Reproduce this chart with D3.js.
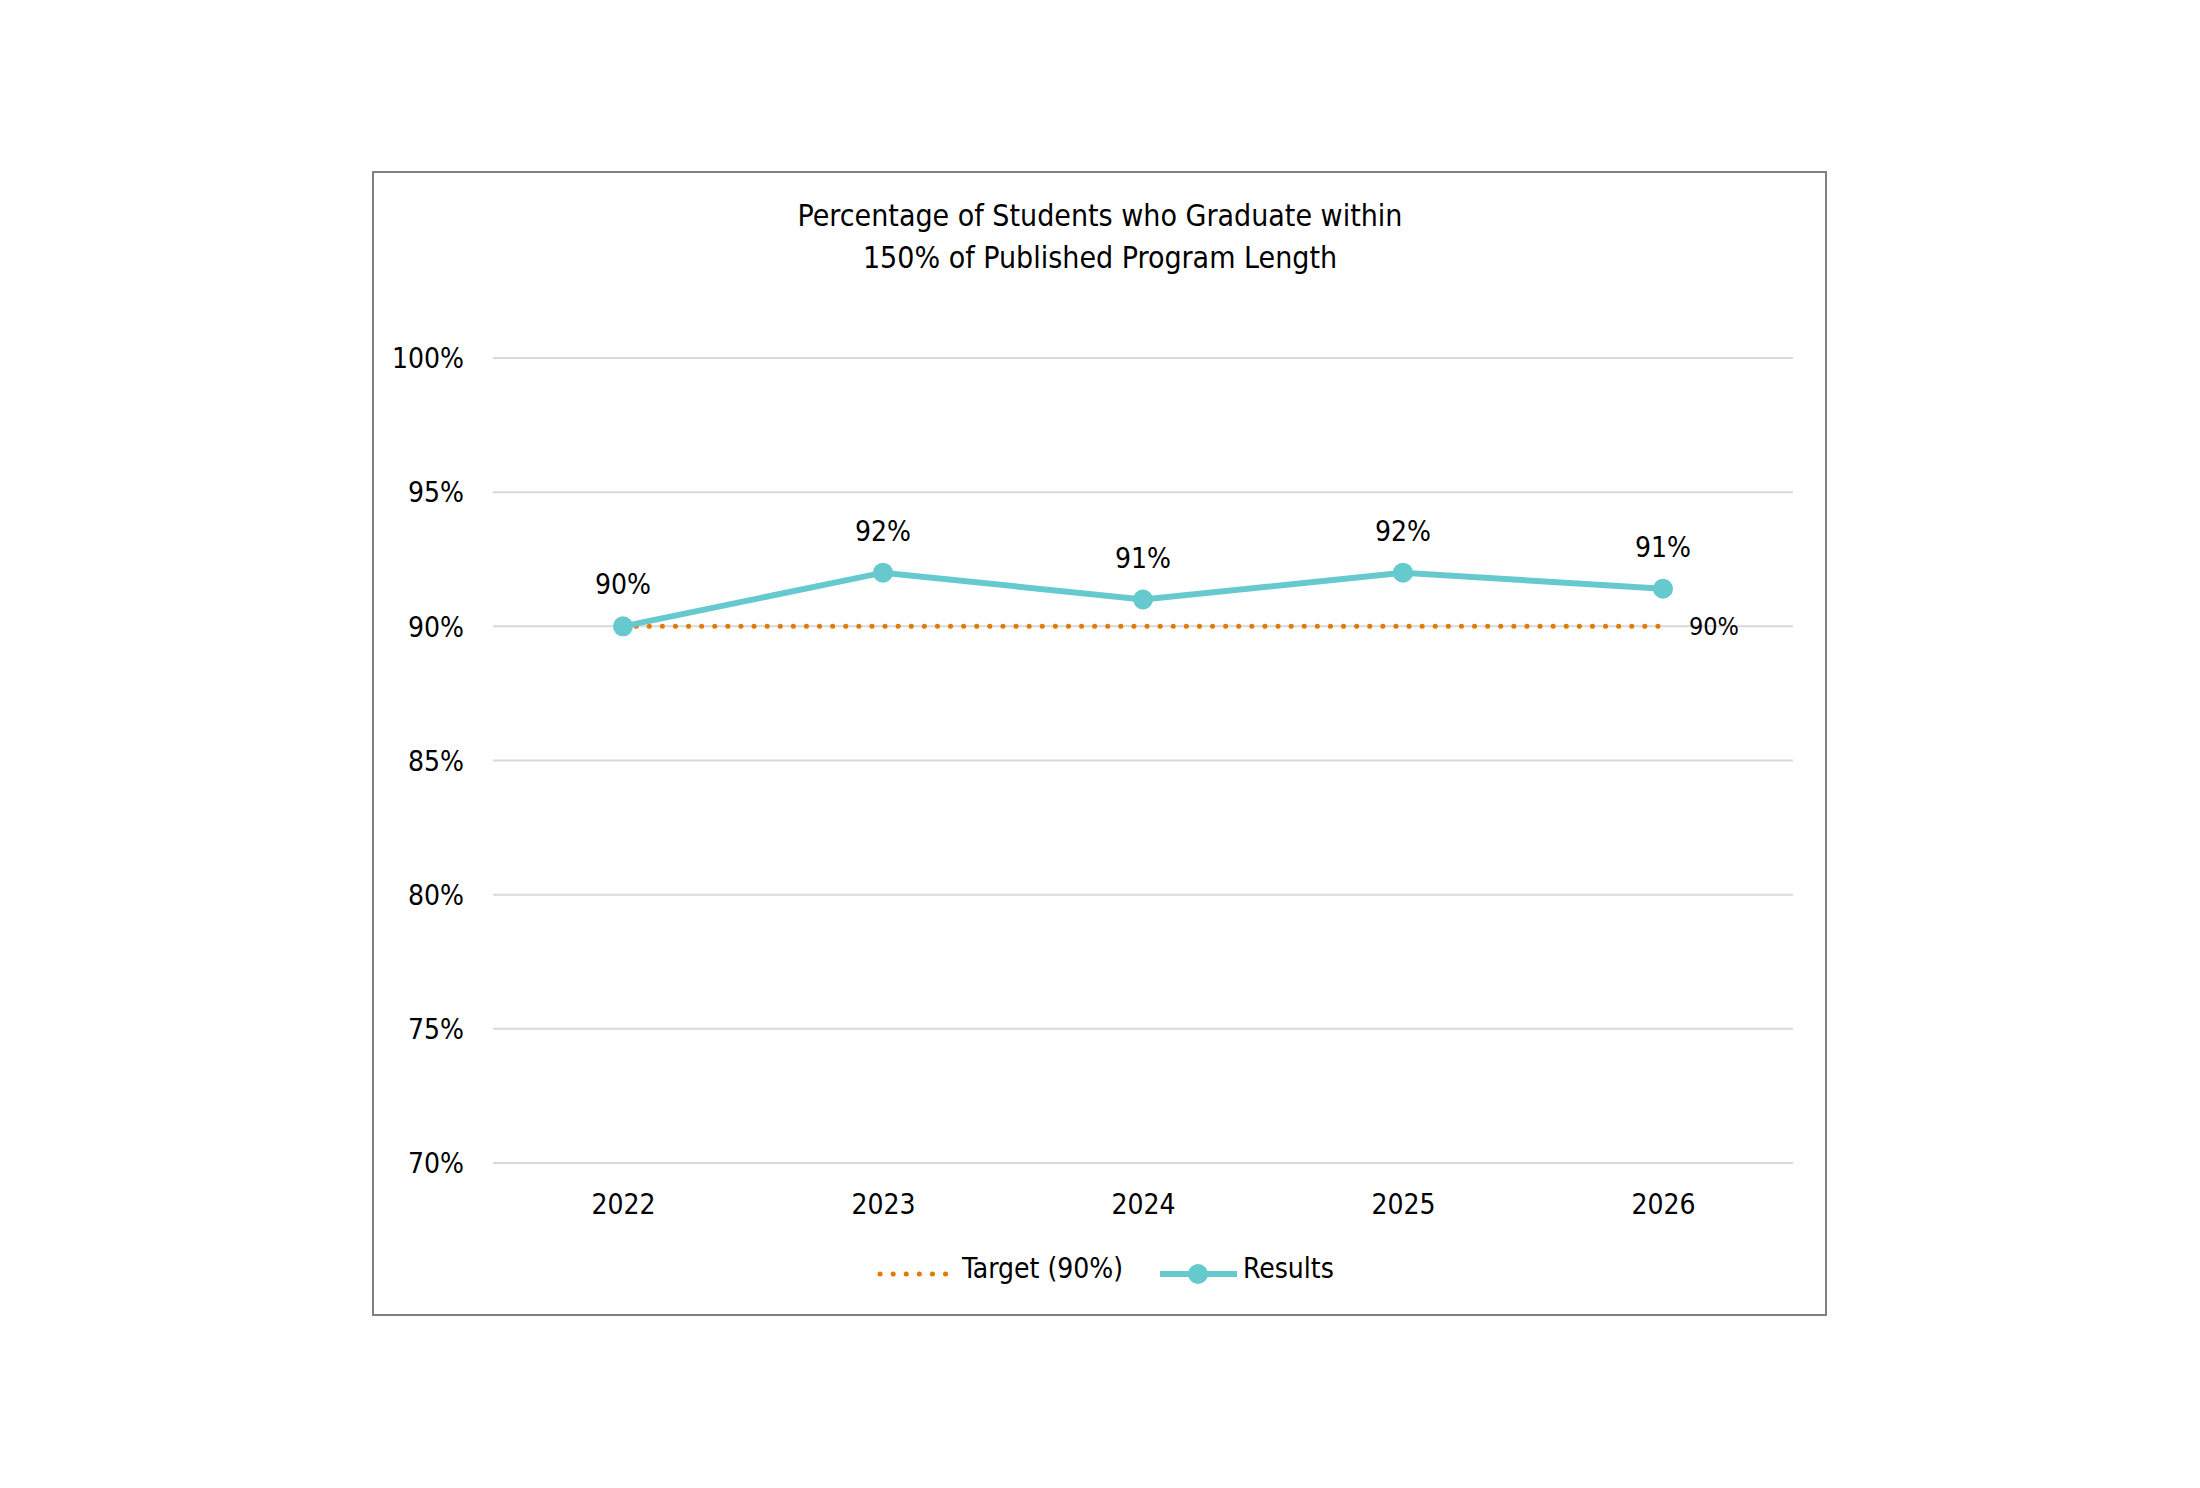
<!DOCTYPE html>
<html>
<head>
<meta charset="utf-8">
<script src="https://cdn.jsdelivr.net/npm/d3@7"></script>
<style>
  body { margin: 0; background: #fff; }
  text { font-family: "Liberation Sans Narrow", "DejaVu Sans Condensed", sans-serif; fill: #000; }
</style>
</head>
<body>
<div id="chart"></div>
<script>
// data
var years = ["2022", "2023", "2024", "2025", "2026"];
var results = [90, 92, 91, 92, 91.4];
var target = [90, 90, 90, 90, 90];
var yTicks = [70, 75, 80, 85, 90, 95, 100];
var titleLines = ["Percentage of Students who Graduate within", "150% of Published Program Length"];

var W = 2200, H = 1488;
var margin = {top: 358, right: 407, bottom: 325, left: 493},
    width = W - margin.left - margin.right,
    height = H - margin.top - margin.bottom;

var svg = d3.select("#chart")
  .append("svg")
    .attr("width", W)
    .attr("height", H);

// outer chart border
svg.append("rect")
  .attr("x", 373).attr("y", 172)
  .attr("width", 1453).attr("height", 1143)
  .attr("fill", "none")
  .attr("stroke", "#808080")
  .attr("stroke-width", 2);

svg.selectAll(".title")
  .data(titleLines)
  .enter()
  .append("text")
    .attr("class", "title")
    .attr("x", 1100)
    .attr("y", function(d, i) { return 226 + i * 42; })
    .attr("text-anchor", "middle")
    .style("font-size", "30px")
    .text(function(d) { return d; });

var g = svg.append("g")
  .attr("transform", "translate(" + margin.left + "," + margin.top + ")");

var x = d3.scalePoint()
  .domain(years)
  .range([0, width])
  .padding(0.5);

var y = d3.scaleLinear()
  .domain([70, 100])
  .range([height, 0]);

// gridlines
g.selectAll(".grid")
  .data(yTicks)
  .enter()
  .append("line")
    .attr("x1", 0).attr("x2", width)
    .attr("y1", function(d) { return y(d); })
    .attr("y2", function(d) { return y(d); })
    .attr("stroke", "#d9d9d9")
    .attr("stroke-width", 2);

var yAxis = g.append("g")
  .call(d3.axisLeft(y).tickValues(yTicks).tickSize(0).tickPadding(29)
    .tickFormat(function(d) { return d + "%"; }));
yAxis.select(".domain").remove();
yAxis.selectAll("text").style("font-size", "28px").attr("dy", "0.35em");

var xAxis = g.append("g")
  .attr("transform", "translate(0," + height + ")")
  .call(d3.axisBottom(x).tickSize(0).tickPadding(31));
xAxis.select(".domain").remove();
xAxis.selectAll("text").style("font-size", "28px");

// target line
var line = d3.line()
  .x(function(d, i) { return x(years[i]); })
  .y(function(d) { return y(d); });

g.append("path")
  .datum(target)
  .attr("d", line)
  .attr("fill", "none")
  .attr("stroke", "#E07B00")
  .attr("stroke-width", 5)
  .attr("stroke-linecap", "round")
  .attr("stroke-dasharray", "0.1 13");

g.append("text")
  .attr("x", x(years[4]) + 26)
  .attr("y", y(target[4]) + 9)
  .style("font-size", "25px")
  .text(target[4] + "%");

// results line
g.append("path")
  .datum(results)
  .attr("d", line)
  .attr("fill", "none")
  .attr("stroke", "#66C9CE")
  .attr("stroke-width", 6);

g.selectAll(".dot")
  .data(results)
  .enter()
  .append("circle")
    .attr("cx", function(d, i) { return x(years[i]); })
    .attr("cy", function(d) { return y(d); })
    .attr("r", 10)
    .attr("fill", "#66C9CE");

g.selectAll(".lbl")
  .data(results)
  .enter()
  .append("text")
    .attr("x", function(d, i) { return x(years[i]); })
    .attr("y", function(d) { return y(d) - 32; })
    .attr("text-anchor", "middle")
    .style("font-size", "28px")
    .text(function(d) { return Math.round(d) + "%"; });

// legend
var leg = svg.append("g").attr("transform", "translate(0,1274)");
leg.append("line")
  .attr("x1", 880).attr("x2", 948)
  .attr("stroke", "#E07B00")
  .attr("stroke-width", 5)
  .attr("stroke-linecap", "round")
  .attr("stroke-dasharray", "0.1 13");
leg.append("text")
  .attr("x", 962).attr("y", 4)
  .style("font-size", "28px")
  .text("Target (90%)");
leg.append("line")
  .attr("x1", 1160).attr("x2", 1237)
  .attr("stroke", "#66C9CE")
  .attr("stroke-width", 6);
leg.append("circle")
  .attr("cx", 1198).attr("r", 10)
  .attr("fill", "#66C9CE");
leg.append("text")
  .attr("x", 1243).attr("y", 4)
  .style("font-size", "28px")
  .text("Results");
</script>
</body>
</html>
